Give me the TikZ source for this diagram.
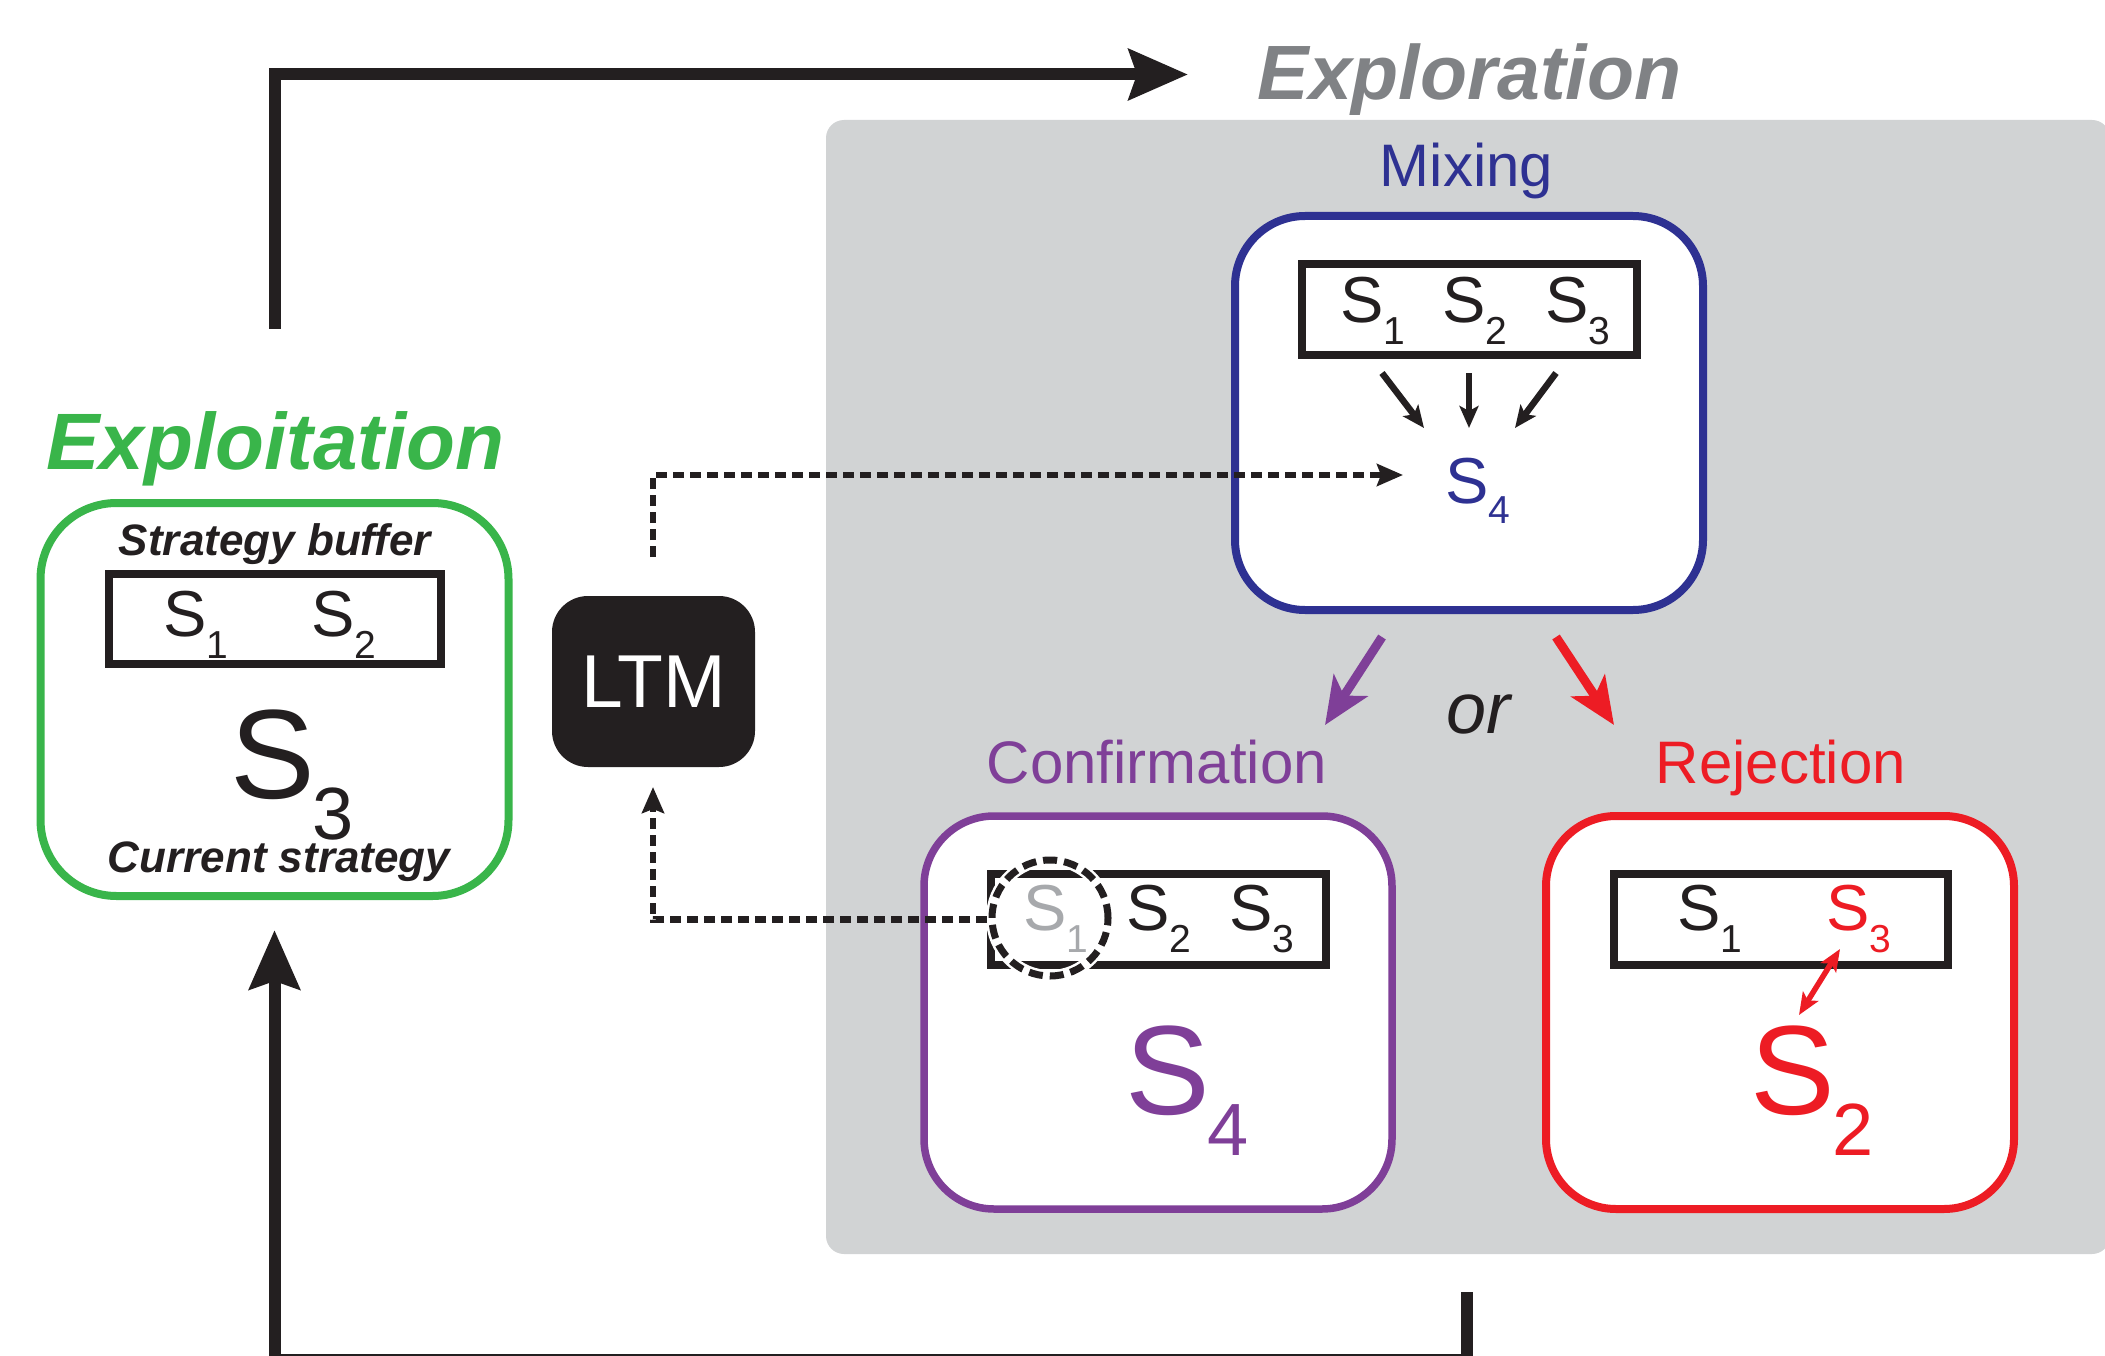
\documentclass[tikz,border=0pt]{standalone}
\usepackage{fontspec}
\setmainfont{Liberation Sans}
\usetikzlibrary{arrows.meta}

\definecolor{exgreen}{HTML}{39B54A}
\definecolor{mixblue}{HTML}{2E3192}
\definecolor{confpurple}{HTML}{7F3F98}
\definecolor{rejred}{HTML}{ED1C24}
\definecolor{panelgray}{HTML}{D1D3D4}
\definecolor{titlegray}{HTML}{808285}
\definecolor{dimgray}{HTML}{A7A9AC}
\definecolor{ink}{HTML}{231F20}

% font size shortcut (sizes in pt)
\newcommand\fsz[1]{\fontsize{#1}{#1}\selectfont}
% strategy label: S with a lowered index
% #1 size of S, #2 size of index, #3 drop of index, #4 kern, #5 index
\newcommand\strat[5]{{\fsz{#1}S}\kern#4pt\raisebox{-#3pt}{\fsz{#2}#5}}
\newcommand\smallS[1]{\strat{65}{39}{22}{0}{#1}}
\newcommand\bigS[1]{\strat{127}{74}{41}{-2}{#1}}

\tikzset{
  stage/.style={draw=#1, line width=8pt, rounded corners=70pt, fill=white,
    inner sep=0pt, minimum width=468pt, minimum height=393pt},
  buffer/.style={draw=ink, line width=8pt, inner sep=0pt,
    minimum width=335pt, minimum height=91pt},
  sname/.style={inner sep=0pt, anchor=base west},
  ctext/.style={inner sep=0pt, anchor=base},
  flow/.style={draw=ink, line width=12pt,
    -{Stealth[length=59pt,width=50pt,inset=8pt]}},
  recall/.style={draw=ink, line width=6.5pt, dash pattern=on 11pt off 6pt,
    -{Stealth[length=26pt,width=22pt,inset=4pt]}},
  mixarrow/.style={draw=ink, line width=6.5pt,
    -{Stealth[length=22pt,width=19pt,inset=5pt]}},
  branch/.style={draw=#1, line width=9pt,
    -{Stealth[length=47pt,width=40pt,inset=12pt]}},
  swap/.style={draw=rejred, line width=5.5pt,
    {Stealth[length=22pt,width=18pt,inset=5pt]}-{Stealth[length=22pt,width=18pt,inset=5pt]}},
}

\begin{document}
\begin{tikzpicture}[x=1pt, y=-1pt]
\useasboundingbox (0,0) rectangle (2105,1356);

% exploration panel
\node[fill=panelgray, rounded corners=18pt, inner sep=0pt,
      minimum width=1284pt, minimum height=1134pt] (panel) at (1468,687) {};

% titles
\node[ctext, text=titlegray, font=\bfseries\itshape\fsz{77}] (explorTitle) at (1469.5,100) {Exploration};
\node[ctext, text=exgreen, font=\bfseries\itshape\fsz{80}] (exploitTitle) at (275.5,469) {Exploitation};

% exploitation box
\node[stage=exgreen, rounded corners=76pt] (exploitBox) at (274.5,699.5) {};
\node[ctext, text=ink, font=\bfseries\itshape\fsz{44}] (bufTitle) at (275,555) {Strategy buffer};
\node[buffer, minimum width=332pt, minimum height=90pt] (exploitBuf) at (275,619) {};
\node[sname, text=ink] (eS1) at (163,636) {\smallS{1}};
\node[sname, text=ink] (eS2) at (311,636) {\smallS{2}};
\node[sname, text=ink] (eS3) at (230,798) {\bigS{3}};
\node[ctext, text=ink, font=\bfseries\itshape\fsz{44}] (curTitle) at (279,872) {Current strategy};

% long-term memory
\node[fill=ink, rounded corners=36pt, inner sep=0pt, minimum width=203pt,
      minimum height=171pt, text=white, font=\fsz{75}] (ltm) at (653.5,681.5) {LTM};

% mixing stage
\node[ctext, text=mixblue, font=\fsz{60}] (mixTitle) at (1466.5,186.5) {Mixing};
\node[stage=mixblue, minimum height=394pt] (mixBox) at (1469,413) {};
\node[buffer] (mixBuf) at (1469.5,309.5) {};
\node[sname, text=ink] (mS1) at (1340,323) {\smallS{1}};
\node[sname, text=ink] (mS2) at (1442,323) {\smallS{2}};
\node[sname, text=ink] (mS3) at (1545,323) {\smallS{3}};
\node[sname, text=mixblue] (mS4) at (1445,503) {\strat{65}{39}{20}{0}{4}};

\coordinate (mA1) at (1382,373); \coordinate (mB1) at (1424,428);
\coordinate (mA2) at (1469,373); \coordinate (mB2) at (1469,428);
\coordinate (mA3) at (1556,373); \coordinate (mB3) at (1515,428);
\draw[mixarrow] (mA1) -- (mB1);
\draw[mixarrow] (mA2) -- (mB2);
\draw[mixarrow] (mA3) -- (mB3);

% branching to the two outcomes
\coordinate (toConfA) at (1382,637); \coordinate (toConfB) at (1325,725);
\coordinate (toRejA) at (1556,637); \coordinate (toRejB) at (1614,725);
\draw[branch=confpurple] (toConfA) -- (toConfB);
\draw[branch=rejred] (toRejA) -- (toRejB);
\node[ctext, text=ink, font=\itshape\fsz{72}] (orText) at (1478,733) {or};

% confirmation stage
\node[ctext, text=confpurple, font=\fsz{60}] (confTitle) at (1157,783) {Confirmation};
\node[stage=confpurple, line width=7.5pt] (confBox) at (1158,1012.5) {};
\node[buffer] (confBuf) at (1158.5,919.5) {};
\node[sname, text=dimgray] (cS1) at (1023,930) {\smallS{1}};
\node[sname, text=ink] (cS2) at (1126,930) {\smallS{2}};
\node[sname, text=ink] (cS3) at (1229,930) {\smallS{3}};
\node[circle, inner sep=0pt, minimum size=116pt, draw=ink, line width=7pt,
      dash pattern=on 14pt off 7pt,
      preaction={draw=white, line width=12pt, solid}] (forgotten) at (1050,918) {};
\node[sname, text=confpurple] (cS4) at (1125,1114) {\bigS{4}};

% rejection stage
\node[ctext, text=rejred, font=\fsz{60}] (rejTitle) at (1781,783) {Rejection};
\node[stage=rejred] (rejBox) at (1780,1012.5) {};
\node[buffer, minimum width=334pt] (rejBuf) at (1781,919.5) {};
\node[sname, text=ink] (rS1) at (1677,930) {\smallS{1}};
\node[sname, text=rejred] (rS3) at (1826,930) {\smallS{3}};
\node[sname, text=rejred] (rS2) at (1750,1114) {\bigS{2}};
\coordinate (swapA) at (1840,949); \coordinate (swapB) at (1799,1015);
\draw[swap] (swapA) -- (swapB);

% exchanges with long-term memory
\coordinate (ltmUp) at (653,557);
\coordinate (mixIn) at (1403,475);
\draw[recall] (ltmUp) |- (mixIn);
\coordinate (ltmDown) at (653,787);
\draw[recall] (confBuf.west) -| (ltmDown);

% switching between exploitation and exploration
\coordinate (goStart) at (274.5,329);
\coordinate (goTip) at (1188,74.5);
\draw[flow] (goStart) |- (goTip);
\coordinate (backStart) at (1466.5,1292);
\coordinate (backCorner) at (1466.5,1360);
\coordinate (backTip) at (274.5,930);
\draw[flow] (backStart) -- (backCorner) -| (backTip);
\end{tikzpicture}
\end{document}
